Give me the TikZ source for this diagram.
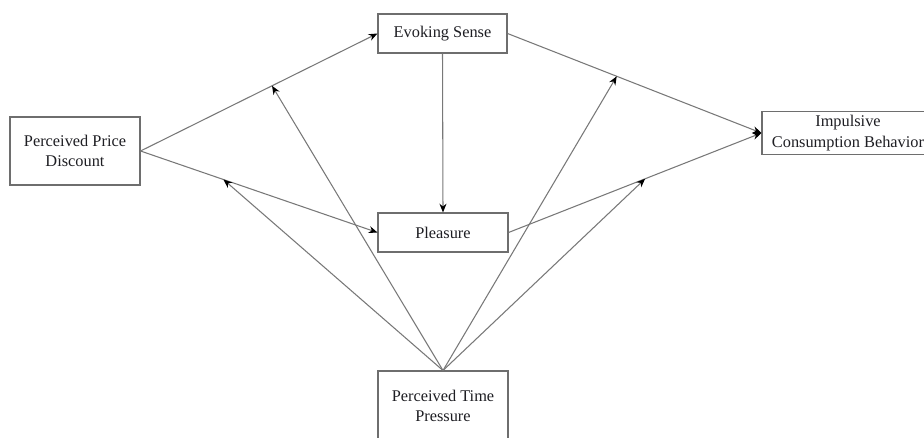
\documentclass[tikz,border=0pt]{standalone}
\usepackage{fontspec}
\setmainfont{Liberation Serif}
\usetikzlibrary{calc,arrows.meta}
\definecolor{edge}{RGB}{120,120,120}
\definecolor{frm}{RGB}{110,110,110}
\definecolor{txt}{RGB}{30,30,35}

\begin{document}
\begin{tikzpicture}[
    >={Stealth[length=5pt,width=4pt,black]},
    blk/.style={rectangle,draw=frm,line width=0.6pt,fill=white,
                minimum height=#1,font=\fontsize{9.3}{11.5}\selectfont,
                text=txt,align=center,inner sep=2pt},
    blk/.default=0.78cm,
    arr/.style={->,line width=0.6pt,edge}
  ]
  \clip (0,0) rectangle (18.48,8.74);
  \fill[white] (0,0) rectangle (18.48,8.74);
  \node[blk=1.36cm,minimum width=2.6cm]  (ppd) at (1.50,5.72) {Perceived Price\\Discount};
  \node[blk,minimum width=2.58cm]        (evk) at (8.85,8.07) {Evoking Sense};
  \node[blk,minimum width=2.6cm]         (pls) at (8.86,4.09) {Pleasure};
  \node[blk=0.8cm,minimum width=3.44cm]  (imp) at (16.96,6.08) {Impulsive\\Consumption Behavior};
  \node[blk=1.4cm,minimum width=2.6cm]   (tpr) at (8.86,0.62) {Perceived Time\\Pressure};
  \draw[arr] (ppd.east)  -- (evk.west);
  \draw[arr] (ppd.east)  -- (pls.west);
  \draw[arr] (evk.south) -- (pls.north);
  \draw[arr] (evk.east)  -- (imp.west);
  \draw[arr] (pls.east)  -- (imp.west);
  % moderation points on the paths
  \coordinate (m1) at ($(ppd.east)!0.555!(evk.west)$);
  \coordinate (m2) at ($(ppd.east)!0.35!(pls.west)$);
  \coordinate (m3) at ($(evk.east)!0.43!(imp.west)$);
  \coordinate (m4) at ($(pls.east)!0.54!(imp.west)$);
  \foreach \m in {m1,m2,m3,m4}
    \draw[arr] (tpr.north) -- (\m);
\end{tikzpicture}
\end{document}
